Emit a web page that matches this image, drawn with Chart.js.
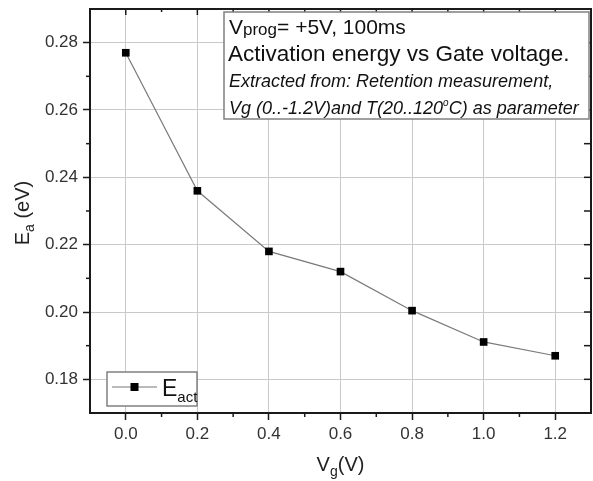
<!DOCTYPE html>
<html>
<head>
<meta charset="utf-8">
<script src="https://cdn.jsdelivr.net/npm/chart.js@4.4.0/dist/chart.umd.min.js"></script>
<style>
  html, body { margin: 0; padding: 0; background: #fff; }
  .wrap { width: 593px; height: 481px; position: relative; }
</style>
</head>
<body>
<div class="wrap"><canvas id="chart"></canvas></div>
<script>
let vgValues = [0.0, 0.2, 0.4, 0.6, 0.8, 1.0, 1.2];
let eaValues = [0.277, 0.236, 0.218, 0.212, 0.2004, 0.1911, 0.187];
let xTicks = [0.0, 0.2, 0.4, 0.6, 0.8, 1.0, 1.2];
let yTicks = [0.18, 0.20, 0.22, 0.24, 0.26, 0.28];
let xMinor = [0.1, 0.3, 0.5, 0.7, 0.9, 1.1];
let yMinor = [0.19, 0.21, 0.23, 0.25, 0.27];

let FONT = "'Liberation Sans', Arial, sans-serif";

// draws text pieces one after another (for sub/superscripts)
function drawParts(ctx, parts, x, y){
  let w = 0;
  parts.forEach(function(p){
    ctx.font = p.font;
    ctx.fillText(p.t, x + w, y + (p.dy || 0));
    w += ctx.measureText(p.t).width;
  });
  return w;
}

function partsWidth(ctx, parts){
  let w = 0;
  parts.forEach(function(p){
    ctx.font = p.font;
    w += ctx.measureText(p.t).width;
  });
  return w;
}

function tick(ctx, x1, y1, x2, y2){
  ctx.beginPath();
  ctx.moveTo(x1, y1);
  ctx.lineTo(x2, y2);
  ctx.stroke();
}

let extrasPlugin = {
  id: "extras",
  afterDraw: function(chart){
    let ctx = chart.ctx;
    let a = chart.chartArea;
    let xs = chart.scales.x;
    let ys = chart.scales.y;

    ctx.save();

    // top / right frame
    ctx.strokeStyle = "#1a1a1a";
    ctx.lineWidth = 2;
    ctx.beginPath();
    ctx.moveTo(a.left, a.top);
    ctx.lineTo(a.right, a.top);
    ctx.lineTo(a.right, a.bottom);
    ctx.stroke();

    // mirrored and minor ticks
    ctx.lineWidth = 1.5;
    xTicks.forEach(function(v){
      let px = xs.getPixelForValue(v);
      tick(ctx, px, a.top, px, a.top + 6);
    });
    xMinor.forEach(function(v){
      let px = xs.getPixelForValue(v);
      tick(ctx, px, a.bottom - 1, px, a.bottom + 4);
      tick(ctx, px, a.top, px, a.top + 3);
    });
    yTicks.forEach(function(v){
      let py = ys.getPixelForValue(v);
      tick(ctx, a.right, py, a.right - 7, py);
    });
    yMinor.forEach(function(v){
      let py = ys.getPixelForValue(v);
      tick(ctx, a.left - 4, py, a.left + 1, py);
      tick(ctx, a.right, py, a.right - 7, py);
    });

    // axis titles
    ctx.fillStyle = "#222";
    ctx.textBaseline = "alphabetic";
    let xt = [
      {t: "V", font: "20px " + FONT},
      {t: "g", font: "14px " + FONT, dy: 5},
      {t: "(V)", font: "20px " + FONT}
    ];
    let cx = (a.left + a.right) / 2;
    drawParts(ctx, xt, cx - partsWidth(ctx, xt) / 2, 471);

    let yt = [
      {t: "E", font: "20px " + FONT},
      {t: "a", font: "14px " + FONT, dy: 5},
      {t: " (eV)", font: "20px " + FONT}
    ];
    ctx.save();
    ctx.translate(29, 213);
    ctx.rotate(-Math.PI / 2);
    drawParts(ctx, yt, -partsWidth(ctx, yt) / 2, 0);
    ctx.restore();

    // info box
    let bx = 224, by = 12, bw = 365, bh = 107;
    ctx.fillStyle = "#fff";
    ctx.fillRect(bx, by, bw, bh);
    ctx.strokeStyle = "#808080";
    ctx.lineWidth = 1.5;
    ctx.strokeRect(bx, by, bw, bh);

    ctx.fillStyle = "#111";
    drawParts(ctx, [
      {t: "V", font: "21px " + FONT},
      {t: "prog", font: "17px " + FONT, dy: 1},
      {t: "= +5V, 100ms", font: "21px " + FONT}
    ], 229, 34);
    drawParts(ctx, [{t: "Activation energy vs Gate voltage.", font: "22.5px " + FONT}], 228, 61);
    drawParts(ctx, [{t: "Extracted from: Retention measurement,", font: "italic 18px " + FONT}], 229, 87);
    drawParts(ctx, [
      {t: "Vg (0..-1.2V)and T(20..120", font: "italic 18px " + FONT},
      {t: "o", font: "italic 10px " + FONT, dy: -8},
      {t: "C) as parameter", font: "italic 18px " + FONT}
    ], 229, 114);

    // legend
    let lx = 107, ly = 372, lw = 90, lh = 34;
    ctx.fillStyle = "#fff";
    ctx.fillRect(lx, ly, lw, lh);
    ctx.strokeStyle = "#808080";
    ctx.lineWidth = 1.5;
    ctx.strokeRect(lx, ly, lw, lh);
    ctx.strokeStyle = "#777";
    ctx.lineWidth = 1;
    tick(ctx, lx + 5, ly + 15, lx + 50, ly + 15);
    ctx.fillStyle = "#000";
    ctx.fillRect(lx + 23.5, ly + 11, 8, 8);
    ctx.fillStyle = "#111";
    drawParts(ctx, [
      {t: "E", font: "23px " + FONT},
      {t: "act", font: "15px " + FONT, dy: 6}
    ], lx + 55, ly + 24);

    ctx.restore();
  }
};

let chartCanvas = document.getElementById("chart");

let chart = new Chart(chartCanvas, {
  type: "line",
  data: {
    datasets: [{
      label: "Eact",
      data: vgValues.map(function(v, i){ return {x: v, y: eaValues[i]}; }),
      borderColor: "#7a7a7a",
      borderWidth: 1.2,
      backgroundColor: "#000",
      pointStyle: "rect",
      pointRadius: 5.4,
      pointBorderWidth: 0,
      pointBackgroundColor: "#000",
      tension: 0
    }]
  },
  options: {
    responsive: true,
    maintainAspectRatio: false,
    animation: false,
    layout: { autoPadding: false, padding: { left: 0, right: 2, top: 9, bottom: 0 } },
    plugins: {
      legend: { display: false },
      tooltip: { enabled: false }
    },
    scales: {
      x: {
        type: "linear",
        min: -0.1,
        max: 1.3,
        afterBuildTicks: function(scale){
          scale.ticks = xTicks.map(function(v){ return {value: v}; });
        },
        afterFit: function(scale){
          scale.height = 68;
          scale.paddingLeft = 0;
          scale.paddingRight = 0;
        },
        ticks: {
          callback: function(v){ return Number(v).toFixed(1); },
          font: { size: 17, family: FONT },
          color: "#333",
          padding: 4,
          maxRotation: 0
        },
        grid: {
          color: "#c9c9c9",
          lineWidth: 1,
          drawTicks: true,
          tickLength: 7,
          tickColor: "#1a1a1a",
          tickWidth: 1.5
        },
        border: { display: true, color: "#1a1a1a", width: 2 }
      },
      y: {
        type: "linear",
        min: 0.17,
        max: 0.29,
        afterBuildTicks: function(scale){
          scale.ticks = yTicks.map(function(v){ return {value: v}; });
        },
        afterFit: function(scale){
          scale.width = 90;
          scale.paddingTop = 0;
          scale.paddingBottom = 0;
        },
        ticks: {
          callback: function(v){ return Number(v).toFixed(2); },
          font: { size: 17, family: FONT },
          color: "#333",
          padding: 5
        },
        grid: {
          color: "#c9c9c9",
          lineWidth: 1,
          drawTicks: true,
          tickLength: 7,
          tickColor: "#1a1a1a",
          tickWidth: 1.5
        },
        border: { display: true, color: "#1a1a1a", width: 2 }
      }
    }
  },
  plugins: [extrasPlugin]
});
</script>
</body>
</html>
